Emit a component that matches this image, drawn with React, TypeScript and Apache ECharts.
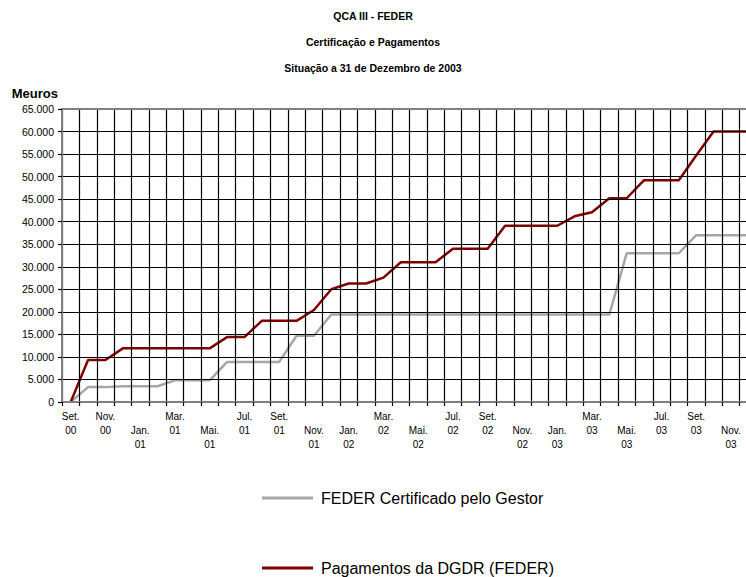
import React, { useEffect, useRef } from "react";
import * as echarts from "echarts";

const FONT = "'Liberation Sans', Arial, sans-serif";

// 40 monthly categories: Set. 00 .. Dez. 03
const categories: string[] = [
  "Set. 00", "Out. 00", "Nov. 00", "Dez. 00",
  "Jan. 01", "Fev. 01", "Mar. 01", "Abr. 01", "Mai. 01", "Jun. 01", "Jul. 01", "Ago. 01", "Set. 01", "Out. 01", "Nov. 01", "Dez. 01",
  "Jan. 02", "Fev. 02", "Mar. 02", "Abr. 02", "Mai. 02", "Jun. 02", "Jul. 02", "Ago. 02", "Set. 02", "Out. 02", "Nov. 02", "Dez. 02",
  "Jan. 03", "Fev. 03", "Mar. 03", "Abr. 03", "Mai. 03", "Jun. 03", "Jul. 03", "Ago. 03", "Set. 03", "Out. 03", "Nov. 03", "Dez. 03",
];

// labels drawn on the lower (staggered) row
const lowerRowLabels = ["Jan. 01", "Mai. 01", "Nov. 01", "Jan. 02", "Mai. 02", "Nov. 02", "Jan. 03", "Mai. 03", "Nov. 03"];

const certificado: number[] = [
  0, 3300, 3300, 3500,
  3500, 3500, 4800, 4800, 4800, 8900, 8900, 8900, 8900, 14700, 14700, 19400,
  19400, 19400, 19400, 19400, 19400, 19400, 19400, 19400, 19400, 19400, 19400, 19400,
  19400, 19400, 19400, 19400, 33000, 33000, 33000, 33000, 37000, 37000, 37000, 37000,
];

const pagamentos: number[] = [
  0, 9300, 9300, 11900,
  11900, 11900, 11900, 11900, 11900, 14400, 14400, 18000, 18000, 18000, 20400, 25000,
  26300, 26300, 27600, 31000, 31000, 31000, 34000, 34000, 34000, 39100, 39100, 39100,
  39100, 41200, 42100, 45200, 45200, 49200, 49200, 49200, 54700, 60000, 60000, 60000,
];

const seriesNames = ["FEDER Certificado pelo Gestor", "Pagamentos da DGDR (FEDER)"];
const titleLines = ["QCA III - FEDER", "Certificação e Pagamentos", "Situação a 31 de Dezembro de 2003"];
const yUnit = "Meuros";

function fmtThousands(v: number): string {
  return String(v).replace(/\B(?=(\d{3})+(?!\d))/g, ".");
}

export default function App() {
  const ref = useRef<HTMLDivElement>(null);
  useEffect(() => {
    if (!ref.current) return;
    const chart = echarts.init(ref.current, undefined, { renderer: "svg" });
    const gray = "#808080";
    chart.setOption({
      animation: false,
      backgroundColor: "#ffffff",
      textStyle: { fontFamily: FONT },
      graphic: [
        {
          type: "text",
          x: 373,
          y: 3,
          style: {
            text: titleLines.join("\n"),
            textAlign: "center",
            textVerticalAlign: "top",
            fontFamily: FONT,
            fontSize: 10.5,
            fontWeight: "bold",
            lineHeight: 26,
            fill: "#000",
          },
        },
      ],
      legend: [
        {
          data: [seriesNames[0]],
          left: 262,
          top: 490,
          padding: 0,
          icon: "rect",
          itemWidth: 51,
          itemHeight: 3,
          textStyle: { fontFamily: FONT, fontSize: 16, color: "#000", padding: [0, 0, 0, 3] },
        },
        {
          data: [seriesNames[1]],
          left: 262,
          top: 560,
          padding: 0,
          icon: "rect",
          itemWidth: 51,
          itemHeight: 3,
          textStyle: { fontFamily: FONT, fontSize: 16, color: "#000", padding: [0, 0, 0, 3] },
        },
      ],
      grid: { left: 62, top: 109, bottom: 175, right: 0, containLabel: false },
      xAxis: [
        {
          type: "category",
          data: categories,
          boundaryGap: true,
          z: 5,
          axisLine: { show: true, lineStyle: { color: gray, width: 2 } },
          axisTick: { show: true, interval: 0, length: 4, lineStyle: { color: "#000", width: 1.2 } },
          splitLine: { show: true, interval: 0, lineStyle: { color: "#000", width: 1.2 } },
          axisLabel: {
            interval: 1,
            margin: 7,
            fontFamily: FONT,
            fontSize: 10,
            color: "#000",
            lineHeight: 14,
            formatter: (value: string) => {
              const parts = value.split(" ");
              const txt = parts[0] + "\n" + parts[1];
              return lowerRowLabels.includes(value) ? "\n" + txt : txt;
            },
          },
        },
        {
          type: "category",
          data: categories,
          position: "top",
          z: 5,
          axisLine: { show: true, onZero: false, lineStyle: { color: gray, width: 2 } },
          axisTick: { show: false },
          axisLabel: { show: false },
          splitLine: { show: false },
        },
      ],
      yAxis: {
        type: "value",
        min: 0,
        max: 65000,
        interval: 5000,
        z: 5,
        name: yUnit,
        nameLocation: "end",
        nameGap: 16,
        nameTextStyle: { fontFamily: FONT, fontSize: 13, fontWeight: "bold", color: "#000", align: "right", verticalAlign: "middle", padding: [0, 4, 0, 0] },
        axisLine: { show: true, lineStyle: { color: gray, width: 2 } },
        axisTick: { show: true, length: 4, lineStyle: { color: "#000", width: 1.2 } },
        splitLine: { show: true, lineStyle: { color: "#000", width: 1.2 } },
        axisLabel: { margin: 8, fontFamily: FONT, fontSize: 10.5, color: "#000", formatter: (v: number) => fmtThousands(v) },
      },
      series: [
        {
          name: seriesNames[0],
          type: "line",
          data: certificado,
          showSymbol: false,
          symbol: "none",
          color: "#A6A6A6",
          lineStyle: { color: "#A6A6A6", width: 2.5 },
          z: 3,
        },
        {
          name: seriesNames[1],
          type: "line",
          data: pagamentos,
          showSymbol: false,
          symbol: "none",
          color: "#800000",
          lineStyle: { color: "#800000", width: 2.5 },
          z: 4,
        },
      ],
    });
    return () => chart.dispose();
  }, []);
  return (
    <div style={{ position: "absolute", left: 0, top: 0, width: 746, height: 577, overflow: "hidden" }}>
      <div ref={ref} style={{ width: 757, height: 577 }} />
    </div>
  );
}
